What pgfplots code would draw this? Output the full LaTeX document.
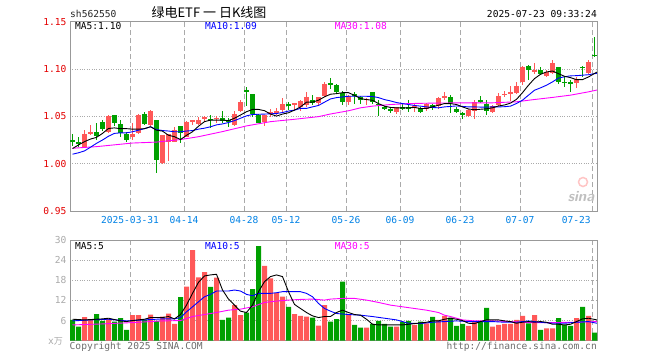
\documentclass[border=0pt]{standalone}
\usepackage{fontspec}
\setmainfont{DejaVu Sans}
\setmonofont{DejaVu Sans Mono}
\newfontfamily\cjk{Noto Sans CJK SC}
\usepackage{pgfplots}
\usepackage{pgfplotstable}
\pgfplotsset{compat=1.18}
\definecolor{upc}{RGB}{255,88,88}
\definecolor{dnc}{RGB}{0,160,0}
\definecolor{frame}{RGB}{153,153,153}
\definecolor{gridc}{RGB}{170,170,170}
\definecolor{pricered}{RGB}{228,0,0}
\definecolor{datec}{RGB}{0,130,230}
\definecolor{ma10}{RGB}{0,0,255}
\definecolor{ma30}{RGB}{255,0,255}
\definecolor{txtgray}{RGB}{110,110,110}
\newcommand\mono{\ttfamily\fontsize{9.6}{10}\selectfont}

\pgfplotstableread{
i bt bb hi lo up v
0 1.0250 1.0233 1.0313 1.0188 0 6.2
1 1.0229 1.0208 1.0278 1.0174 0 4.2
2 1.0313 1.0174 1.0360 1.0163 1 7.0
3 1.0337 1.0320 1.0406 1.0302 1 6.4
4 1.0333 1.0292 1.0430 1.0250 0 7.9
5 1.0440 1.0365 1.0465 1.0347 0 5.9
6 1.0500 1.0340 1.0510 1.0326 1 6.4
7 1.0510 1.0430 1.0510 1.0400 0 5.7
8 1.0417 1.0326 1.0458 1.0278 0 6.7
9 1.0313 1.0250 1.0337 1.0233 0 3.2
10 1.0313 1.0285 1.0430 1.0250 1 7.6
11 1.0514 1.0320 1.0528 1.0313 1 7.6
12 1.0521 1.0417 1.0545 1.0406 0 6.2
13 1.0556 1.0406 1.0570 1.0396 1 7.8
14 1.0458 1.0035 1.0458 0.9900 0 5.9
15 1.0302 1.0007 1.0302 1.0000 1 7.2
16 1.0313 1.0233 1.0313 1.0024 1 8.1
17 1.0360 1.0233 1.0389 1.0233 1 5.0
18 1.0396 1.0320 1.0396 1.0222 0 13.0
19 1.0438 1.0285 1.0448 1.0278 1 16.1
20 1.0458 1.0438 1.0465 1.0406 1 27.0
21 1.0465 1.0417 1.0490 1.0406 1 18.9
22 1.0490 1.0470 1.0503 1.0444 1 20.4
23 1.0472 1.0462 1.0514 1.0374 0 16.0
24 1.0486 1.0472 1.0503 1.0434 1 18.8
25 1.0483 1.0448 1.0560 1.0427 0 6.2
26 1.0462 1.0437 1.0479 1.0385 0 6.9
27 1.0524 1.0409 1.0560 1.0399 1 10.6
28 1.0654 1.0556 1.0671 1.0549 1 7.6
29 1.0776 1.0762 1.0810 1.0608 0 8.4
30 1.0734 1.0524 1.0734 1.0490 0 15.4
31 1.0514 1.0434 1.0524 1.0427 0 28.2
32 1.0517 1.0440 1.0517 1.0399 1 22.3
33 1.0541 1.0530 1.0573 1.0490 1 18.6
34 1.0556 1.0542 1.0584 1.0514 1 14.2
35 1.0630 1.0566 1.0689 1.0549 1 13.1
36 1.0626 1.0612 1.0654 1.0566 0 10.1
37 1.0636 1.0615 1.0643 1.0560 1 7.9
38 1.0661 1.0600 1.0671 1.0560 1 7.4
39 1.0706 1.0619 1.0759 1.0600 1 7.2
40 1.0678 1.0636 1.0724 1.0619 0 6.9
41 1.0700 1.0636 1.0706 1.0619 1 4.5
42 1.0846 1.0713 1.0864 1.0700 1 10.6
43 1.0849 1.0837 1.0909 1.0794 0 5.7
44 1.0826 1.0757 1.0837 1.0740 0 6.4
45 1.0747 1.0653 1.0767 1.0618 0 17.6
46 1.0712 1.0653 1.0722 1.0618 1 7.8
47 1.0740 1.0719 1.0757 1.0635 0 4.7
48 1.0705 1.0677 1.0719 1.0628 0 3.9
49 1.0688 1.0677 1.0698 1.0618 1 3.9
50 1.0753 1.0649 1.0753 1.0635 0 5.0
51 1.0635 1.0621 1.0670 1.0503 0 5.9
52 1.0594 1.0580 1.0608 1.0566 0 5.0
53 1.0580 1.0559 1.0600 1.0531 0 4.2
54 1.0594 1.0545 1.0600 1.0524 1 4.2
55 1.0597 1.0587 1.0635 1.0566 0 5.5
56 1.0595 1.0584 1.0670 1.0542 0 5.9
57 1.0605 1.0594 1.0635 1.0549 1 4.7
58 1.0590 1.0549 1.0600 1.0531 0 5.7
59 1.0628 1.0573 1.0642 1.0552 1 5.2
60 1.0621 1.0594 1.0635 1.0566 0 7.1
61 1.0698 1.0608 1.0705 1.0583 1 6.2
62 1.0712 1.0691 1.0757 1.0677 1 7.4
63 1.0705 1.0642 1.0722 1.0531 0 6.9
64 1.0580 1.0545 1.0600 1.0531 0 4.4
65 1.0538 1.0510 1.0549 1.0469 0 5.0
66 1.0566 1.0503 1.0573 1.0497 1 4.4
67 1.0654 1.0559 1.0671 1.0476 1 5.7
68 1.0678 1.0654 1.0713 1.0636 0 5.7
69 1.0629 1.0559 1.0671 1.0514 0 9.8
70 1.0608 1.0549 1.0619 1.0531 1 4.2
71 1.0713 1.0619 1.0748 1.0608 1 4.7
72 1.0741 1.0727 1.0769 1.0700 1 5.0
73 1.0755 1.0745 1.0818 1.0664 1 5.0
74 1.0818 1.0748 1.0864 1.0741 1 6.2
75 1.1021 1.0860 1.1028 1.0829 1 7.4
76 1.1028 1.0986 1.1038 1.0881 0 5.2
77 1.0986 1.0965 1.1063 1.0951 1 7.6
78 1.0986 1.0951 1.1021 1.0934 0 3.2
79 1.0969 1.0930 1.0993 1.0916 1 3.7
80 1.1060 1.0960 1.1100 1.0944 1 3.7
81 1.1018 1.0864 1.1024 1.0846 0 6.7
82 1.0866 1.0855 1.0916 1.0811 0 4.7
83 1.0858 1.0848 1.0881 1.0760 0 4.4
84 1.0900 1.0854 1.0916 1.0800 1 6.7
85 1.1026 1.1016 1.1034 1.0918 0 10.1
86 1.1070 1.0962 1.1098 1.0951 1 7.4
87 1.1153 1.1143 1.1335 1.1130 0 2.4
}\candles

\begin{document}
\begin{tikzpicture}[x=1pt,y=1pt]
\fill[white] (0pt,0pt) rectangle (660pt,360pt);

% ---------- price panel ----------
\begin{axis}[
  at={(70pt,149pt)}, anchor=south west, scale only axis,
  width=527pt, height=189.3pt,
  xmin=-0.417, xmax=87.417, ymin=0.95, ymax=1.15,
  axis line style={draw=frame, line width=1pt},
  tick style={draw=none},
  ytick={0.95,1.00,1.05,1.10,1.15},
  yticklabels={0.95,1.00,1.05,1.10,1.15},
  yticklabel style={text=pricered, font=\mono},
  xtick={9.583,18.583,28.583,35.583,45.583,54.583,64.583,74.583,86.583},
  xticklabels={2025-03-31,04-14,04-28,05-12,05-26,06-09,06-23,07-07,},
  xticklabel style={text=datec, font=\mono, yshift=-2.3pt},
  xmajorgrids, ymajorgrids,
  x grid style={gridc, dash pattern=on 5pt off 3pt, line width=0.9pt},
  y grid style={gridc, dotted, line width=0.9pt},
  clip=true,
]
% wicks
\addplot[draw=none, mark=none, forget plot,
  restrict expr to domain={\thisrow{up}}{0.5:1.5},
  error bars/.cd, y dir=both, y explicit, error mark=none,
  error bar style={draw=upc, line width=1pt}]
  table[x=i, y expr={(\thisrow{hi}+\thisrow{lo})/2}, y error expr={(\thisrow{hi}-\thisrow{lo})/2}] {\candles};
\addplot[draw=none, mark=none, forget plot,
  restrict expr to domain={\thisrow{up}}{-0.5:0.5},
  error bars/.cd, y dir=both, y explicit, error mark=none,
  error bar style={draw=dnc, line width=1pt}]
  table[x=i, y expr={(\thisrow{hi}+\thisrow{lo})/2}, y error expr={(\thisrow{hi}-\thisrow{lo})/2}] {\candles};
% bodies
\addplot[draw=none, mark=none, forget plot,
  restrict expr to domain={\thisrow{up}}{0.5:1.5},
  error bars/.cd, y dir=both, y explicit, error mark=none,
  error bar style={draw=upc, line width=5pt}]
  table[x=i, y expr={(\thisrow{bt}+\thisrow{bb})/2}, y error expr={(\thisrow{bt}-\thisrow{bb})/2}] {\candles};
\addplot[draw=none, mark=none, forget plot,
  restrict expr to domain={\thisrow{up}}{-0.5:0.5},
  error bars/.cd, y dir=both, y explicit, error mark=none,
  error bar style={draw=dnc, line width=5pt}]
  table[x=i, y expr={(\thisrow{bt}+\thisrow{bb})/2}, y error expr={(\thisrow{bt}-\thisrow{bb})/2}] {\candles};
% MA30
\addplot[ma30, line width=0.9pt, mark=none] coordinates {
(0,1.0163)(4,1.0180)(10,1.0218)(14,1.0228)(18,1.0255)(21,1.0285)(25,1.0339)(29,1.0399)(33,1.0444)(37,1.0469)(41,1.0497)(43,1.0525)(46,1.0559)(48,1.0590)(50,1.0608)(53,1.0625)(56,1.0635)(60,1.0640)(65,1.0643)(70,1.0643)(74,1.0654)(77,1.0678)(80,1.0700)(83,1.0724)(86,1.0759)(87.4,1.0778)};
% MA10
\addplot[ma10, line width=0.9pt, mark=none] coordinates {
(0,1.0100)(1,1.0115)(2,1.0135)(3,1.0174)(4,1.0215)(5,1.0250)(6,1.0290)(7,1.0320)(8,1.0326)(9,1.0326)(10,1.0337)(11,1.0354)(12,1.0370)(13,1.0390)(14,1.0360)(15,1.0350)(16,1.0345)(17,1.0337)(18,1.0337)(19,1.0345)(20,1.0350)(21,1.0365)(22,1.0375)(23,1.0390)(24,1.0410)(25,1.0420)(26,1.0435)(27,1.0455)(28,1.0480)(29,1.0505)(30,1.0520)(31,1.0522)(32,1.0524)(33,1.0527)(34,1.0530)(35,1.0540)(36,1.0556)(37,1.0566)(38,1.0584)(39,1.0584)(40,1.0600)(41,1.0615)(42,1.0650)(43,1.0684)(44,1.0698)(45,1.0705)(46,1.0712)(47,1.0712)(48,1.0712)(49,1.0712)(50,1.0710)(51,1.0698)(52,1.0677)(53,1.0663)(54,1.0646)(55,1.0635)(56,1.0625)(57,1.0615)(58,1.0608)(59,1.0600)(60,1.0594)(61,1.0590)(62,1.0600)(63,1.0605)(64,1.0610)(65,1.0605)(66,1.0600)(67,1.0600)(68,1.0598)(69,1.0598)(70,1.0600)(71,1.0600)(72,1.0602)(73,1.0608)(74,1.0636)(75,1.0671)(76,1.0724)(77,1.0776)(78,1.0801)(79,1.0829)(80,1.0864)(81,1.0905)(82,1.0918)(83,1.0928)(84,1.0930)(85,1.0935)(86,1.0940)(87.4,1.0955)};
% MA5
\addplot[black, line width=0.9pt, mark=none] coordinates {
(0,1.0160)(1,1.0198)(2,1.0233)(3,1.0260)(4,1.0278)(5,1.0320)(6,1.0372)(7,1.0378)(8,1.0370)(9,1.0370)(10,1.0365)(11,1.0365)(12,1.0370)(13,1.0390)(14,1.0354)(15,1.0344)(16,1.0300)(17,1.0285)(18,1.0255)(19,1.0300)(20,1.0337)(21,1.0396)(22,1.0444)(23,1.0460)(24,1.0460)(25,1.0460)(26,1.0455)(27,1.0480)(28,1.0514)(29,1.0549)(30,1.0573)(31,1.0573)(32,1.0560)(33,1.0524)(34,1.0503)(35,1.0524)(36,1.0538)(37,1.0566)(38,1.0600)(39,1.0650)(40,1.0650)(41,1.0671)(42,1.0706)(43,1.0734)(44,1.0740)(45,1.0750)(46,1.0750)(47,1.0722)(48,1.0688)(49,1.0677)(50,1.0670)(51,1.0635)(52,1.0608)(53,1.0594)(54,1.0590)(55,1.0590)(56,1.0590)(57,1.0594)(58,1.0583)(59,1.0583)(60,1.0600)(61,1.0618)(62,1.0635)(63,1.0635)(64,1.0625)(65,1.0600)(66,1.0578)(67,1.0570)(68,1.0575)(69,1.0580)(70,1.0590)(71,1.0610)(72,1.0620)(73,1.0640)(74,1.0680)(75,1.0750)(76,1.0829)(77,1.0899)(78,1.0944)(79,1.0969)(80,1.0979)(81,1.0951)(82,1.0923)(83,1.0909)(84,1.0888)(85,1.0888)(86,1.0916)(87.4,1.0968)};
\node[anchor=base west, font=\mono, inner sep=0pt] at (axis cs:0.4,1.1422) {MA5:1.10};
\node[anchor=base west, font=\mono, text=ma10, inner sep=0pt] at (axis cs:22.05,1.1422) {MA10:1.09};
\node[anchor=base west, font=\mono, text=ma30, inner sep=0pt] at (axis cs:43.7,1.1422) {MA30:1.08};
\end{axis}
\node[anchor=north east, text=datec, font=\mono, yshift=-2.3pt] at (594.3pt,149pt) {07-23};

% ---------- volume panel ----------
\begin{axis}[
  at={(70pt,19.3pt)}, anchor=south west, scale only axis,
  width=527pt, height=100.7pt,
  xmin=-0.417, xmax=87.417, ymin=0, ymax=30,
  axis line style={draw=frame, line width=1pt},
  tick style={draw=none},
  ytick={6,12,18,24,30},
  yticklabels={6,12,18,24,30},
  yticklabel style={text=gridc, font=\mono},
  xtick={9.583,18.583,28.583,35.583,45.583,54.583,64.583,74.583,86.583},
  xticklabels={},
  xmajorgrids, ymajorgrids,
  x grid style={gridc, dash pattern=on 5pt off 3pt, line width=0.9pt},
  y grid style={gridc, dotted, line width=0.9pt},
  clip=true,
]
\addplot[ybar, bar width=5pt, bar shift=0pt, fill=upc, draw=none, forget plot,
  restrict expr to domain={\thisrow{up}}{0.5:1.5}]
  table[x=i, y=v] {\candles};
\addplot[ybar, bar width=5pt, bar shift=0pt, fill=dnc, draw=none, forget plot,
  restrict expr to domain={\thisrow{up}}{-0.5:0.5}]
  table[x=i, y=v] {\candles};
% vol MA30
\addplot[ma30, line width=0.9pt, mark=none] coordinates {
(0,4.7)(5,5.0)(10,5.4)(15,5.9)(18,6.0)(20,7.2)(22,7.8)(24,8.4)(26,9.1)(28,9.4)(30,10.1)(32,11.4)(34,11.8)(36,12.1)(38,12.3)(40,12.4)(42,12.1)(43,12.4)(45,12.6)(47,12.6)(49,12.1)(51,11.4)(53,10.6)(55,10.1)(57,9.6)(59,9.1)(61,8.4)(62,7.6)(63,7.2)(64,6.7)(65,6.2)(67,5.9)(70,5.9)(73,5.7)(76,5.4)(80,5.4)(84,5.5)(87.4,5.7)};
% vol MA10
\addplot[ma10, line width=0.9pt, mark=none] coordinates {
(0,5.9)(3,6.2)(6,6.4)(9,5.9)(12,6.2)(15,6.5)(17,6.5)(18,6.9)(19,8.6)(20,10.1)(21,11.6)(22,13.1)(23,13.8)(24,14.8)(25,14.8)(26,14.8)(27,15.1)(28,14.8)(29,13.8)(30,13.4)(31,14.1)(32,14.1)(33,14.1)(34,14.3)(35,14.6)(36,14.6)(37,14.6)(38,14.6)(39,14.1)(40,13.1)(41,11.1)(42,9.6)(43,8.8)(44,8.1)(46,7.8)(48,7.6)(50,7.2)(52,6.7)(54,6.2)(56,5.2)(58,5.1)(60,5.5)(62,5.7)(64,5.9)(66,5.7)(68,5.7)(70,5.7)(72,5.5)(74,5.5)(76,5.9)(78,5.5)(80,5.2)(82,5.2)(84,5.5)(86,5.7)(87.4,5.2)};
% vol MA5
\addplot[black, line width=0.9pt, mark=none] coordinates {
(0,6.4)(2,6.2)(5,6.5)(6,6.7)(8,5.9)(9,5.7)(10,6.0)(12,6.4)(13,6.9)(15,6.9)(16,7.2)(17,6.5)(18,7.8)(19,10.6)(20,14.1)(21,17.4)(22,19.3)(23,19.6)(24,19.8)(25,15.1)(26,12.4)(27,10.6)(28,8.8)(29,8.4)(30,10.6)(31,14.6)(32,17.6)(33,19.1)(34,19.6)(35,19.1)(36,14.6)(37,10.8)(38,9.6)(39,8.4)(40,7.4)(41,6.9)(42,7.2)(43,7.2)(44,8.4)(45,9.1)(46,8.4)(47,7.8)(48,7.6)(49,6.4)(50,4.9)(51,4.7)(52,4.7)(53,4.7)(54,4.7)(55,4.7)(56,4.9)(57,5.1)(58,5.3)(59,5.5)(60,5.9)(61,5.9)(62,6.4)(63,6.7)(64,6.4)(65,6.0)(66,5.2)(67,5.1)(68,5.7)(69,6.2)(70,6.2)(71,6.2)(72,5.9)(73,5.7)(74,5.2)(75,5.5)(76,5.7)(77,5.5)(78,5.7)(79,5.5)(80,4.9)(81,4.9)(82,4.7)(83,4.9)(84,5.7)(85,6.5)(86,6.7)(87.4,6.2)};
\node[anchor=base west, font=\mono, inner sep=0pt] at (axis cs:0.4,27.2) {MA5:5};
\node[anchor=base west, font=\mono, text=ma10, inner sep=0pt] at (axis cs:22.05,27.2) {MA10:5};
\node[anchor=base west, font=\mono, text=ma30, inner sep=0pt] at (axis cs:43.7,27.2) {MA30:5};
\end{axis}

% ---------- texts ----------
\node[anchor=base west, font=\mono, text=black!85, inner sep=0pt] at (70pt,343pt) {sh562550};
\node[anchor=base, inner sep=0pt] at (209pt,343pt) {\cjk\fontsize{13}{13}\selectfont 绿电ETF 一 日K线图};
\node[anchor=base east, font=\mono, inner sep=0pt] at (597pt,343pt) {2025-07-23 09:33:24};
\node[anchor=base east, text=gridc, inner sep=0pt] at (63pt,16pt) {\mono x\cjk\fontsize{9}{9}\selectfont 万};
\node[anchor=base west, font=\mono, text=txtgray, inner sep=0pt] at (69.5pt,11pt) {Copyright 2025 SINA.COM};
\node[anchor=base east, font=\mono, text=txtgray, inner sep=0pt] at (597pt,11pt) {http://finance.sina.com.cn};
\node[text=black!25, font=\sffamily\bfseries\itshape\fontsize{15}{15}\selectfont, inner sep=0pt] at (581pt,163pt) {sina};
\draw[upc!35, line width=1.5pt] (583pt,178pt) circle (4.5pt);
\end{tikzpicture}
\end{document}
